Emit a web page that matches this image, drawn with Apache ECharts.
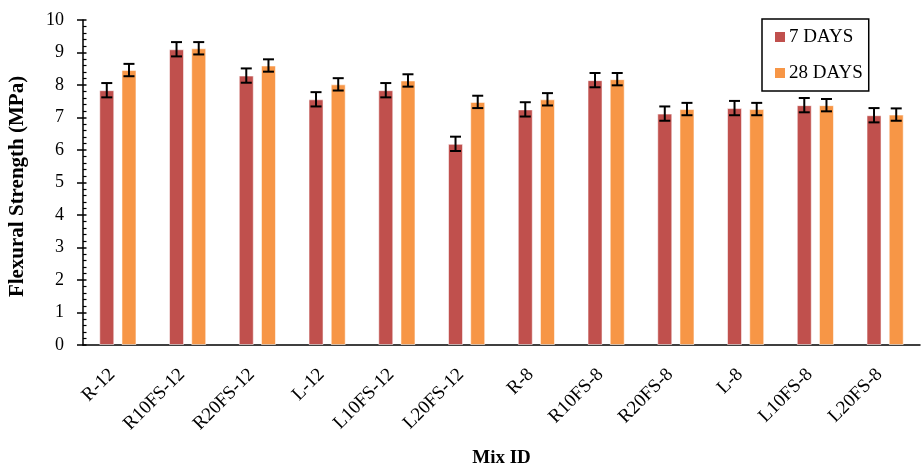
<!DOCTYPE html>
<html>
<head>
<meta charset="utf-8">
<script src="https://cdn.jsdelivr.net/npm/echarts@6/dist/echarts.min.js"></script>
<style>
  html, body { margin: 0; padding: 0; background: #fff; }
  #chart { width: 922px; height: 467px; }
</style>
</head>
<body>
<div id="chart"></div>
<script>
// Flexural strength of each mix at 7 and 28 days, with standard deviation
const mixIds = ['R-12', 'R10FS-12', 'R20FS-12', 'L-12', 'L10FS-12', 'L20FS-12',
                'R-8', 'R10FS-8', 'R20FS-8', 'L-8', 'L10FS-8', 'L20FS-8'];
const days7  = [7.84, 9.10, 8.29, 7.56, 7.84, 6.19, 7.25, 8.15, 7.12, 7.29, 7.38, 7.07];
const days28 = [8.46, 9.13, 8.60, 8.02, 8.14, 7.48, 7.56, 8.18, 7.26, 7.26, 7.38, 7.09];
const sd7    = [0.22, 0.22, 0.22, 0.22, 0.22, 0.22, 0.22, 0.22, 0.22, 0.22, 0.22, 0.22];
const sd28   = [0.19, 0.19, 0.19, 0.19, 0.19, 0.19, 0.19, 0.19, 0.19, 0.19, 0.19, 0.19];
const yTicks = [0, 1, 2, 3, 4, 5, 6, 7, 8, 9, 10];

const FONT = '"Liberation Serif", "Times New Roman", serif';
const BAR_FRAC = 0.215;   // bar width as a share of the category band
const GAP_FRAC = 0.48;    // gap between the two bars, as a share of bar width

// Error bar drawn over one of the two bars of a category
function errorBars(sideSign, means, sds) {
  return {
    type: 'custom',
    silent: true,
    z: 10,
    data: means.map((m, i) => [i, m, sds[i]]),
    renderItem: function (params, api) {
      const idx = api.value(0);
      const mean = api.value(1);
      const sd = api.value(2);
      const band = api.size([1, 0])[0];
      const bw = band * BAR_FRAC;
      const off = sideSign * (bw + bw * GAP_FRAC) / 2;
      const top = api.coord([idx, mean + sd]);
      const bot = api.coord([idx, mean - sd]);
      const x = top[0] + off;
      const cap = 5.5;
      const style = { stroke: '#000', lineWidth: 2 };
      return {
        type: 'group',
        children: [
          { type: 'line', shape: { x1: x, y1: top[1], x2: x, y2: bot[1] }, style: style },
          { type: 'line', shape: { x1: x - cap, y1: top[1], x2: x + cap, y2: top[1] }, style: style },
          { type: 'line', shape: { x1: x - cap, y1: bot[1], x2: x + cap, y2: bot[1] }, style: style }
        ]
      };
    }
  };
}

const chart = echarts.init(document.getElementById('chart'), null, { renderer: 'canvas' });

chart.setOption({
  animation: false,
  backgroundColor: '#fff',
  textStyle: { fontFamily: FONT },
  grid: { left: 83, right: 2, top: 20, bottom: 122, containLabel: false, outerBoundsMode: 'none' },
  legend: {
    data: ['7 DAYS', '28 DAYS'],
    orient: 'vertical',
    left: 762,
    top: 19,
    padding: [8, 6, 8, 13],
    itemGap: 16,
    itemWidth: 10,
    itemHeight: 10,
    itemStyle: { borderWidth: 0 },
    icon: 'rect',
    borderColor: '#000',
    borderWidth: 1.5,
    backgroundColor: '#fff',
    textStyle: { fontFamily: FONT, fontSize: 19, color: '#000', lineHeight: 20, padding: [0, 0, 0, -1] }
  },
  xAxis: {
    type: 'category',
    data: mixIds,
    name: 'Mix ID',
    nameLocation: 'middle',
    nameGap: 104,
    nameTextStyle: { fontFamily: FONT, fontSize: 19, fontWeight: 'bold', color: '#000' },
    axisLine: { lineStyle: { color: '#000', width: 1.5 } },
    axisTick: { show: false },
    axisLabel: {
      rotate: 45,
      margin: 21,
      interval: 0,
      padding: [0, 8, 0, 0],
      fontFamily: FONT,
      fontSize: 19,
      color: '#000'
    },
    splitLine: { show: false }
  },
  yAxis: [
    {
      type: 'value',
      min: yTicks[0],
      max: yTicks[yTicks.length - 1],
      interval: 1,
      name: 'Flexural Strength (MPa)',
      nameLocation: 'middle',
      nameGap: 55,
      nameTextStyle: { fontFamily: FONT, fontSize: 21, fontWeight: 'bold', color: '#000', padding: [0, 8, 0, 0] },
      axisLine: { show: true, lineStyle: { color: '#000', width: 1.5 } },
      axisTick: { show: true, length: 6, lineStyle: { color: '#000', width: 1.5 } },
      axisLabel: { fontFamily: FONT, fontSize: 18, color: '#000', margin: 19 },
      splitLine: { show: false }
    },
    {
      // inner side of the ticks: majors plus five minor divisions per unit
      type: 'value',
      position: 'left',
      min: yTicks[0],
      max: yTicks[yTicks.length - 1],
      interval: 1,
      axisLine: { show: false },
      axisTick: { show: true, inside: true, length: 3.5, lineStyle: { color: '#000', width: 1.5 } },
      minorTick: { show: true, splitNumber: 5, length: 3.5, lineStyle: { color: '#000', width: 1.2 } },
      axisLabel: { show: false },
      splitLine: { show: false }
    }
  ],
  series: [
    {
      name: '7 DAYS',
      type: 'bar',
      data: days7,
      barWidth: (BAR_FRAC * 100) + '%',
      barGap: (GAP_FRAC * 100) + '%',
      itemStyle: { color: '#C0504D', borderColor: 'rgba(255,255,255,0.55)', borderWidth: 1 }
    },
    {
      name: '28 DAYS',
      type: 'bar',
      data: days28,
      barWidth: (BAR_FRAC * 100) + '%',
      barGap: (GAP_FRAC * 100) + '%',
      itemStyle: { color: '#F79646', borderColor: 'rgba(255,255,255,0.55)', borderWidth: 1 }
    },
    errorBars(-1, days7, sd7),
    errorBars(1, days28, sd28)
  ]
});
</script>
</body>
</html>
